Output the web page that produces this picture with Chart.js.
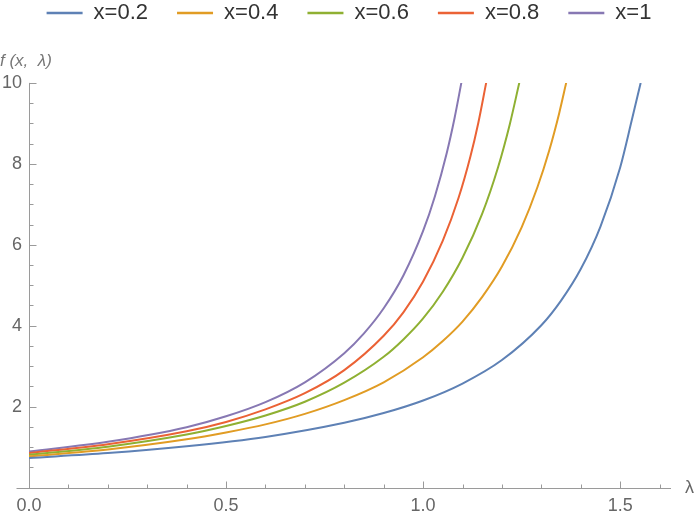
<!DOCTYPE html>
<html>
<head>
<meta charset="utf-8">
<script src="https://cdn.jsdelivr.net/npm/chart.js@4.4.0/dist/chart.umd.min.js"></script>
<style>
  html, body { margin: 0; padding: 0; background: #fff; }
  #wrap { width: 698px; height: 516px; }
</style>
</head>
<body>
<div id="wrap"><canvas id="chart"></canvas></div>
<script>
// legend labels and colours (Mathematica default palette)
const seriesNames = ["x=0.2", "x=0.4", "x=0.6", "x=0.8", "x=1"];
const seriesColors = ["#5E81B5", "#E19C24", "#8FB032", "#EB6235", "#8778B3"];

// lambda / f values, one pair of arrays per curve
const lam02 = [0, 0.2, 0.4, 0.6, 0.8, 0.9, 1.0, 1.1, 1.2, 1.3, 1.35, 1.4, 1.45, 1.5, 1.53, 1.552];
const f02   = [0.73, 0.85, 1.02, 1.25, 1.60, 1.84, 2.15, 2.57, 3.15, 4.01, 4.62, 5.40, 6.45, 7.91, 9.10, 10];

const lam04 = [0, 0.2, 0.4, 0.5, 0.6, 0.7, 0.8, 0.9, 1.0, 1.05, 1.1, 1.15, 1.2, 1.25, 1.29, 1.32, 1.345, 1.363];
const f04   = [0.77, 0.94, 1.19, 1.36, 1.56, 1.82, 2.16, 2.60, 3.22, 3.62, 4.10, 4.71, 5.46, 6.43, 7.42, 8.33, 9.24, 10];

const lam06 = [0, 0.2, 0.4, 0.5, 0.6, 0.7, 0.8, 0.9, 0.95, 1.0, 1.05, 1.1, 1.15, 1.19, 1.22, 1.244];
const f06   = [0.81, 1.01, 1.31, 1.52, 1.78, 2.12, 2.59, 3.23, 3.66, 4.18, 4.84, 5.68, 6.77, 7.91, 8.98, 10];

const lam08 = [0, 0.2, 0.4, 0.5, 0.6, 0.7, 0.8, 0.9, 0.95, 1.0, 1.05, 1.09, 1.12, 1.14, 1.16];
const f08   = [0.85, 1.07, 1.39, 1.62, 1.93, 2.33, 2.90, 3.75, 4.33, 5.09, 6.10, 7.16, 8.18, 9.01, 10];

const lam10 = [0, 0.2, 0.4, 0.5, 0.6, 0.7, 0.8, 0.85, 0.9, 0.95, 1.0, 1.03, 1.06, 1.08, 1.097];
const f10   = [0.89, 1.13, 1.49, 1.76, 2.11, 2.60, 3.32, 3.81, 4.43, 5.24, 6.34, 7.20, 8.27, 9.14, 10];

// axis ranges and labels
const xMajorStep = 0.5;
const yMajorStep = 2;
const xAxisEnd = 1.629;
const xLabel = "λ";
const yLabel = "f (x,  λ)";

const lams = [lam02, lam04, lam06, lam08, lam10];
const fs = [f02, f04, f06, f08, f10];

const isMultiple = (v, step) => Math.abs(v / step - Math.round(v / step)) < 1e-6;

const axisGray = "#9a9a9a";
const labelGray = "#666";
const fontFamily = "'Liberation Sans', Arial, sans-serif";
Chart.defaults.font.family = fontFamily;

// Mathematica style axes: lines through the origin, ticks pointing inwards
const mmaAxes = {
  id: "mmaAxes",
  beforeDatasetsDraw(chart) {
    const { ctx, chartArea: a, scales: { x, y } } = chart;
    const x0 = Math.round(x.getPixelForValue(0)) + 0.5;
    const y0 = Math.round(y.getPixelForValue(0)) + 0.5;
    const xEnd = x.getPixelForValue(xAxisEnd);
    ctx.save();
    ctx.strokeStyle = axisGray;
    ctx.lineWidth = 1;
    ctx.beginPath();
    ctx.moveTo(x0 - 13, y0);
    ctx.lineTo(xEnd, y0);
    ctx.moveTo(x0, y0);
    ctx.lineTo(x0, a.top);
    x.ticks.forEach(t => {
      if (t.value <= 0 || t.value > xAxisEnd) return;
      const px = Math.round(x.getPixelForValue(t.value)) + 0.5;
      const len = isMultiple(t.value, xMajorStep) ? 7 : 4;
      ctx.moveTo(px, y0);
      ctx.lineTo(px, y0 - len);
    });
    y.ticks.forEach(t => {
      if (t.value <= 0) return;
      const py = Math.round(y.getPixelForValue(t.value)) + 0.5;
      const len = isMultiple(t.value, yMajorStep) ? 7 : 4;
      ctx.moveTo(x0, py);
      ctx.lineTo(x0 + len, py);
    });
    ctx.stroke();

    ctx.fillStyle = labelGray;
    ctx.font = "18px " + fontFamily;
    ctx.textAlign = "left";
    ctx.textBaseline = "middle";
    ctx.fillText(xLabel, xEnd + 14, y0);
    ctx.restore();
  }
};

new Chart(document.getElementById("chart"), {
  type: "line",
  data: {
    datasets: seriesNames.map((name, i) => ({
      label: name,
      data: lams[i].map((l, j) => ({ x: l, y: fs[i][j] })),
      borderColor: seriesColors[i],
      backgroundColor: seriesColors[i],
      borderWidth: 2,
      pointRadius: 0,
      fill: false,
      cubicInterpolationMode: "monotone"
    }))
  },
  options: {
    responsive: true,
    maintainAspectRatio: false,
    animation: false,
    layout: { padding: { top: -27, left: 0, right: 0, bottom: 0 } },
    plugins: {
      tooltip: { enabled: false },
      legend: {
        position: "top",
        labels: {
          boxWidth: 36,
          boxHeight: 2.5,
          padding: 29,
          color: "#333",
          font: { size: 22 },
          generateLabels: chart => chart.data.datasets.map((ds, i) => ({
            text: ds.label,
            fillStyle: ds.borderColor,
            strokeStyle: ds.borderColor,
            lineWidth: 0,
            fontColor: "#333",
            hidden: false,
            datasetIndex: i
          }))
        }
      },
      title: {
        display: true,
        text: yLabel,
        align: "start",
        position: "top",
        weight: 500,
        color: "#777",
        font: { size: 17, style: "italic", weight: "normal" },
        padding: { top: 17.5, bottom: 11 }
      }
    },
    scales: {
      x: {
        type: "linear",
        min: 0,
        max: 1.6975,
        grid: { display: false, drawTicks: false },
        border: { display: false },
        afterFit: s => { s.height = 28.5; },
        ticks: {
          stepSize: 0.1,
          autoSkip: false,
          includeBounds: false,
          maxRotation: 0,
          padding: 8,
          color: labelGray,
          font: { size: 18 },
          callback: v => isMultiple(v, xMajorStep) ? v.toFixed(1) : ""
        }
      },
      y: {
        type: "linear",
        min: 0,
        max: 10,
        grid: { display: false, drawTicks: false },
        border: { display: false },
        afterFit: s => { s.width = 29; },
        ticks: {
          stepSize: 0.5,
          autoSkip: false,
          includeBounds: false,
          padding: 7,
          color: labelGray,
          font: { size: 18 },
          callback: v => (v > 0 && isMultiple(v, yMajorStep)) ? String(v) : ""
        }
      }
    }
  },
  plugins: [mmaAxes]
});
</script>
</body>
</html>
